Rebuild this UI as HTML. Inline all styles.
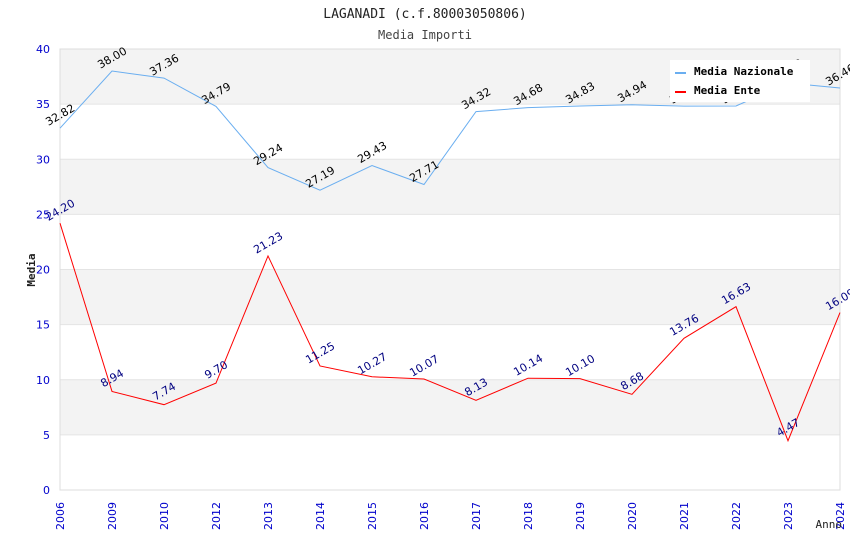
<!DOCTYPE html>
<html><head><meta charset="utf-8"><style>
html,body{margin:0;padding:0;background:#fff;}
svg{display:block;font-family:"DejaVu Sans Mono","Liberation Mono",monospace;}
.s{font-family:"DejaVu Sans","Liberation Sans",sans-serif;}
</style></head><body>
<svg id="chart" width="850" height="550">
<text x="425" y="18" text-anchor="middle" font-size="13" fill="#222">LAGANADI (c.f.80003050806)</text>
<text x="425" y="39" text-anchor="middle" font-size="12" fill="#444">Media Importi</text>
<g id="plot"></g>
</svg>
<script>
const categories=["2006","2009","2010","2012","2013","2014","2015","2016","2017","2018","2019","2020","2021","2022","2023","2024"];
const nazionale=[32.82,38.00,37.36,34.79,29.24,27.19,29.43,27.71,34.32,34.68,34.83,34.94,34.82,34.83,36.92,36.46];
const ente=[24.20,8.94,7.74,9.70,21.23,11.25,10.27,10.07,8.13,10.14,10.10,8.68,13.76,16.63,4.47,16.09];
const yTicks=[0,5,10,15,20,25,30,35,40];
const L=60,R=840,T=49,B=490,yMax=40;
const NS="http://www.w3.org/2000/svg";
const g=document.getElementById('plot');
const x=i=>L+i*(R-L)/(categories.length-1);
const y=v=>B-v/yMax*(B-T);
function mk(t,a,p){const e=document.createElementNS(NS,t);for(const k in a)e.setAttribute(k,a[k]);(p||g).appendChild(e);return e;}
for(let i=0;i<yTicks.length-1;i++){
 const band=mk('rect',{x:L,y:y(yTicks[i+1]),width:R-L,height:y(yTicks[i])-y(yTicks[i+1]),fill:i%2?'#f3f3f3':'#fff'});
 
 
}
yTicks.forEach(v=>{
 const ln=mk('line',{x1:L,x2:R,y1:y(v),y2:y(v),stroke:'#e4e4e4'});
 
 
 const t=mk('text',{x:L-10,y:y(v)+4,'text-anchor':'end','font-size':11,fill:'#0000cc',class:'s'});
 t.textContent=v;
 
 
});
const fr=mk('rect',{x:L,y:T,width:R-L,height:B-T,fill:'none',stroke:'#ddd'});


categories.forEach((c,i)=>{
 const t=mk('text',{transform:`translate(${x(i)+4},${B+40}) rotate(-90)`,'font-size':11,fill:'#0000cc',class:'s'});
 t.textContent=c;
 
 
});
function series(vals,color,lblColor,name){
 const p=mk('polyline',{points:vals.map((v,i)=>x(i)+','+y(v)).join(' '),fill:'none',stroke:color,'stroke-width':1});
 
 
 vals.forEach((v,i)=>{
  const t=mk('text',{transform:`translate(${x(i)+2},${y(v)-10}) rotate(-30)`,'text-anchor':'middle','font-size':11,fill:lblColor,class:'s'});
  t.textContent=v.toFixed(2);
  
  
 });
}
series(nazionale,'#6aaef0','#000','nazionale');
series(ente,'#ff0000','#000080','ente');
const lg=mk('g',{});


mk('rect',{x:670,y:60,width:140,height:42,fill:'#fff'},lg);
mk('line',{x1:675,x2:686,y1:73,y2:73,stroke:'#6aaef0','stroke-width':2},lg);
mk('line',{x1:675,x2:686,y1:92,y2:92,stroke:'#ff0000','stroke-width':2},lg);
const l1=mk('text',{x:694,y:75,'font-size':11,'font-weight':'bold',fill:'#000'},lg);l1.textContent='Media Nazionale';


const l2=mk('text',{x:694,y:94,'font-size':11,'font-weight':'bold',fill:'#000'},lg);l2.textContent='Media Ente';


const yt=mk('text',{transform:'translate(35,270) rotate(-90)','text-anchor':'middle','font-size':11,'font-weight':'bold',fill:'#222'});
yt.textContent='Media';


const xt=mk('text',{x:842,y:528,'text-anchor':'end','font-size':11,fill:'#222'});
xt.textContent='Anno';


</script>
</body></html>
